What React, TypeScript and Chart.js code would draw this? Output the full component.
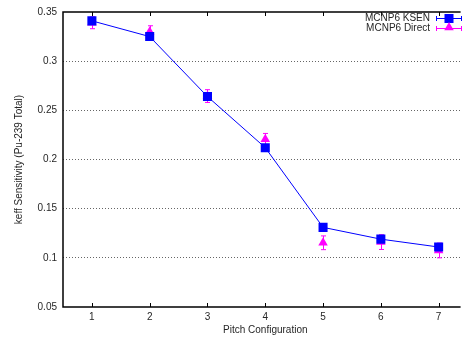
import React, { useEffect, useRef } from "react";
import { Chart, registerables } from "chart.js";

Chart.register(...registerables);

const configs = [1, 2, 3, 4, 5, 6, 7];
const xTickLabels = ["1", "2", "3", "4", "5", "6", "7"];
const ksen = [0.341, 0.325, 0.264, 0.212, 0.131, 0.119, 0.111];
const direct = [0.339, 0.33, 0.2645, 0.2205, 0.1153, 0.116, 0.1075];
const directErr = [0.006, 0.006, 0.0065, 0.006, 0.007, 0.0075, 0.0075];
const yTicks = [0.05, 0.1, 0.15, 0.2, 0.25, 0.3, 0.35];
const xTitle = "Pitch Configuration";
const yTitle = "keff Sensitivity (Pu-239 Total)";

const BLUE = "#0000ff";
const MAGENTA = "#ff00ff";
const TEXT = "#262626";
const FONT = "Liberation Sans";

function drawSquare(ctx: CanvasRenderingContext2D, x: number, y: number, s: number) {
  ctx.fillStyle = BLUE;
  ctx.fillRect(x - s / 2, y - s / 2, s, s);
}
function drawTri(ctx: CanvasRenderingContext2D, x: number, y: number, r: number) {
  ctx.fillStyle = MAGENTA;
  ctx.beginPath();
  ctx.moveTo(x, y - r);
  ctx.lineTo(x + r * 0.866, y + r * 0.5);
  ctx.lineTo(x - r * 0.866, y + r * 0.5);
  ctx.closePath();
  ctx.fill();
}

const decorPlugin = {
  id: "decor",
  beforeDatasetsDraw(chart: any) {
    const ctx = chart.ctx;
    const xs = chart.scales.x;
    const ys = chart.scales.y;
    ctx.save();
    ctx.strokeStyle = MAGENTA;
    ctx.lineWidth = 1;
    direct.forEach((v, i) => {
      const px = Math.round(xs.getPixelForValue(configs[i])) + 0.5;
      const y1 = ys.getPixelForValue(v + directErr[i]);
      const y2 = ys.getPixelForValue(v - directErr[i]);
      ctx.beginPath();
      ctx.moveTo(px, y1);
      ctx.lineTo(px, y2);
      ctx.moveTo(px - 2.5, y1);
      ctx.lineTo(px + 2.5, y1);
      ctx.moveTo(px - 2.5, y2);
      ctx.lineTo(px + 2.5, y2);
      ctx.stroke();
    });
    ctx.restore();
  },
  afterDraw(chart: any) {
    const ctx = chart.ctx;
    const { left, right, top, bottom } = chart.chartArea;
    const xs = chart.scales.x;
    ctx.save();
    ctx.strokeStyle = "#000";
    ctx.lineWidth = 1.5;
    ctx.beginPath();
    ctx.moveTo(right, top);
    ctx.lineTo(left, top);
    ctx.lineTo(left, bottom);
    ctx.lineTo(right, bottom);
    ctx.stroke();
    ctx.lineWidth = 1;
    configs.forEach((c) => {
      const px = Math.round(xs.getPixelForValue(c)) + 0.5;
      ctx.beginPath();
      ctx.moveTo(px, top);
      ctx.lineTo(px, top + 4);
      ctx.moveTo(px, bottom);
      ctx.lineTo(px, bottom - 4);
      ctx.stroke();
    });
    // x title centred on the full plot span (0.5..7.5)
    ctx.font = `10px "${FONT}"`;
    ctx.fillStyle = TEXT;
    ctx.textAlign = "center";
    ctx.textBaseline = "middle";
    ctx.fillText(xTitle, xs.getPixelForValue(4), 330);
    // legend
    ctx.textAlign = "right";
    const entries = [
      { label: "MCNP6 KSEN", color: BLUE, y: 18, kind: "sq" },
      { label: "MCNP6 Direct", color: MAGENTA, y: 28, kind: "tri" },
    ];
    entries.forEach((e) => {
      ctx.fillStyle = TEXT;
      ctx.fillText(e.label, 430, e.y + 0.5);
      ctx.strokeStyle = e.color;
      ctx.lineWidth = 1;
      const yy = Math.round(e.y) + 0.5;
      ctx.beginPath();
      ctx.moveTo(436, yy);
      ctx.lineTo(462, yy);
      ctx.moveTo(436.5, yy - 2.5);
      ctx.lineTo(436.5, yy + 2.5);
      ctx.moveTo(461.5, yy - 2.5);
      ctx.lineTo(461.5, yy + 2.5);
      ctx.stroke();
      if (e.kind === "sq") drawSquare(ctx, 449, yy, 9);
      else drawTri(ctx, 449, yy - 1, 5.5);
    });
    ctx.restore();
  },
};

export default function App() {
  const ref = useRef<HTMLCanvasElement>(null);
  useEffect(() => {
    if (!ref.current) return;
    const chart = new Chart(ref.current, {
      type: "line",
      data: {
        datasets: [
          {
            label: "MCNP6 KSEN",
            data: configs.map((c, i) => ({ x: c, y: ksen[i] })),
            borderColor: BLUE,
            backgroundColor: BLUE,
            borderWidth: 1,
            pointStyle: "rect",
            pointRadius: 6.4,
            pointBorderWidth: 0,
            pointBackgroundColor: BLUE,
            tension: 0,
          },
          {
            label: "MCNP6 Direct",
            data: configs.map((c, i) => ({ x: c, y: direct[i] })),
            showLine: false,
            borderColor: MAGENTA,
            backgroundColor: MAGENTA,
            pointStyle: "triangle",
            pointRadius: 5.5,
            pointBorderWidth: 0,
            pointBackgroundColor: MAGENTA,
          },
        ],
      },
      options: {
        responsive: false,
        animation: false,
        layout: { padding: { top: 10, left: 0, right: 0, bottom: 0 } },
        plugins: { legend: { display: false }, tooltip: { enabled: false } },
        scales: {
          x: {
            type: "linear",
            min: 0.5,
            max: 7.38,
            afterBuildTicks: (s: any) => {
              s.ticks = configs.map((v) => ({ value: v }));
            },
            afterFit: (s: any) => {
              s.height = 32;
            },
            grid: { display: false },
            border: { display: false },
            ticks: {
              padding: -4,
              color: TEXT,
              font: { family: FONT, size: 10 },
              callback: (v: any) => xTickLabels[configs.indexOf(Number(v))] ?? "",
            },
          },
          y: {
            min: 0.05,
            max: 0.35,
            afterBuildTicks: (s: any) => {
              s.ticks = yTicks.map((v) => ({ value: v }));
            },
            afterFit: (s: any) => {
              s.width = 63;
            },
            border: { display: false, dash: [1, 2] },
            grid: {
              drawTicks: false,
              color: (c: any) =>
                c.tick && (c.tick.value <= 0.051 || c.tick.value >= 0.349) ? "rgba(0,0,0,0)" : "#666",
              lineWidth: 1,
            },
            ticks: {
              padding: 6,
              color: TEXT,
              font: { family: FONT, size: 10 },
              callback: (v: any) => String(Number(Number(v).toFixed(2))),
            },
            title: {
              display: true,
              text: yTitle,
              color: TEXT,
              font: { family: FONT, size: 10 },
              padding: { top: 13, bottom: 0 },
            },
          },
        },
      } as any,
      plugins: [decorPlugin],
    });
    return () => chart.destroy();
  }, []);
  return (
    <div style={{ position: "absolute", left: 0, top: 0, width: 467, height: 339 }}>
      <canvas ref={ref} width={467} height={339} />
    </div>
  );
}
